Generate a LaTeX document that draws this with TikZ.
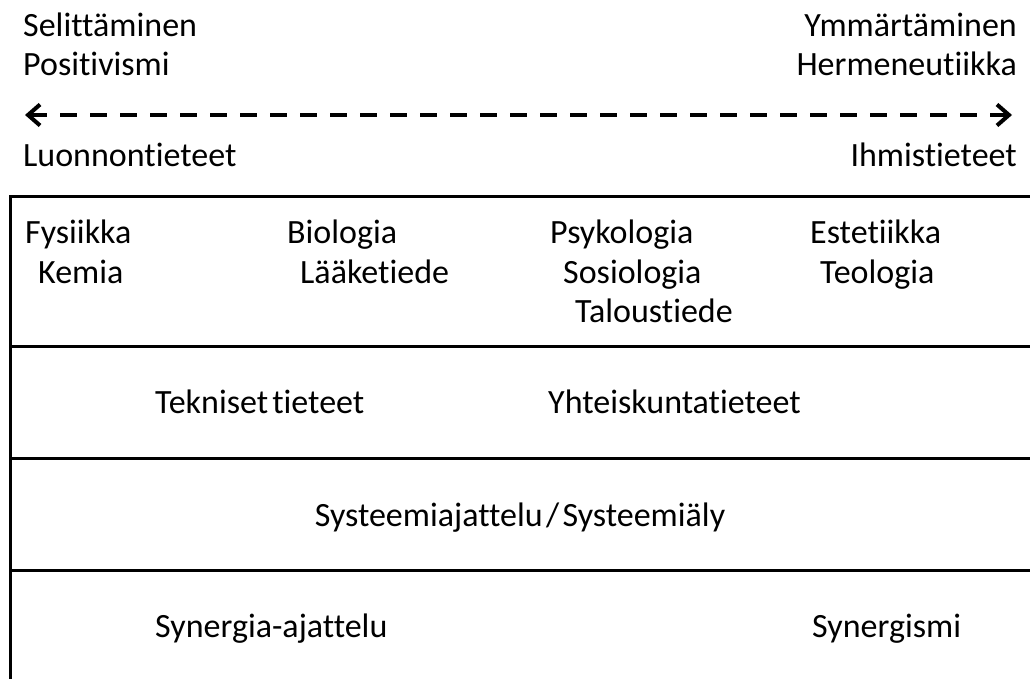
\documentclass[tikz,border=0pt]{standalone}
\usepackage{fontspec}
\setmainfont{Carlito}[Ligatures={NoCommon}]
\usepackage{tikz}
\usetikzlibrary{arrows.meta,positioning}

\begin{document}
\begin{tikzpicture}[
    x=1pt, y=-1pt,
    label/.style={inner sep=0pt, font=\fontsize{34}{40}\selectfont},
    leftlabel/.style={label, anchor=base west},
    rightlabel/.style={label, anchor=base east},
    divider/.style={line width=3pt, draw=black},
    scale arrow/.style={{Straight Barb[length=12pt,width=21pt]}-{Straight Barb[length=12pt,width=21pt]},
        line width=4pt, dash pattern=on 17pt off 13pt}
]
\useasboundingbox (0,0) rectangle (1030,679);
% poles of the scale
\node[leftlabel] (explain) at (23,37) {Selittäminen};
\node[leftlabel] (positivism) at (23,76) {Positivismi};
\node[leftlabel] (natural) at (23,167) {Luonnontieteet};
\node[rightlabel] (understand) at (1017,37) {Ymmärtäminen};
\node[rightlabel] (hermeneutics) at (1017,76) {Hermeneutiikka};
\node[rightlabel] (human) at (1017,167) {Ihmistieteet};
\coordinate (leftend) at (25,115);
\coordinate (rightend) at (1012,115);
\draw[scale arrow] (leftend) -- (rightend);
% table frame
\coordinate (topleft) at (10,197);
\coordinate (topright) at (1030,197);
\coordinate (row1left) at (10,346);
\coordinate (row1right) at (1030,346);
\coordinate (row2left) at (10,458);
\coordinate (row2right) at (1030,458);
\coordinate (row3left) at (10,570);
\coordinate (row3right) at (1030,570);
\coordinate (bottomleft) at (10,679);
\draw[divider] (topright) -- (topleft) -- (bottomleft);
\draw[divider] (row1left) -- (row1right);
\draw[divider] (row2left) -- (row2right);
\draw[divider] (row3left) -- (row3right);
% disciplines
\node[leftlabel] (physics) at (25,243) {Fysiikka};
\node[leftlabel] (chemistry) at (38,283) {Kemia};
\node[leftlabel] (biology) at (287,243) {Biologia};
\node[leftlabel] (medicine) at (300,283) {Lääketiede};
\node[leftlabel] (psychology) at (550,243) {Psykologia};
\node[leftlabel] (sociology) at (563,283) {Sosiologia};
\node[leftlabel] (economics) at (575,322) {Taloustiede};
\node[leftlabel] (aesthetics) at (810,243) {Estetiikka};
\node[leftlabel] (theology) at (820,283) {Teologia};
\node[leftlabel] (technical) at (155,413) {Tekniset\hspace{0.12em}tieteet};
\node[leftlabel] (social) at (548,413) {Yhteiskuntatieteet};
\node[label, anchor=base] (systems) at (520,526) {Systeemiajattelu\hspace{0.1em}/\hspace{0.1em}Systeemiäly};
\node[leftlabel] (synergythink) at (155,637) {Synergia-ajattelu};
\node[leftlabel] (synergism) at (812,637) {Synergismi};
\end{tikzpicture}
\end{document}
